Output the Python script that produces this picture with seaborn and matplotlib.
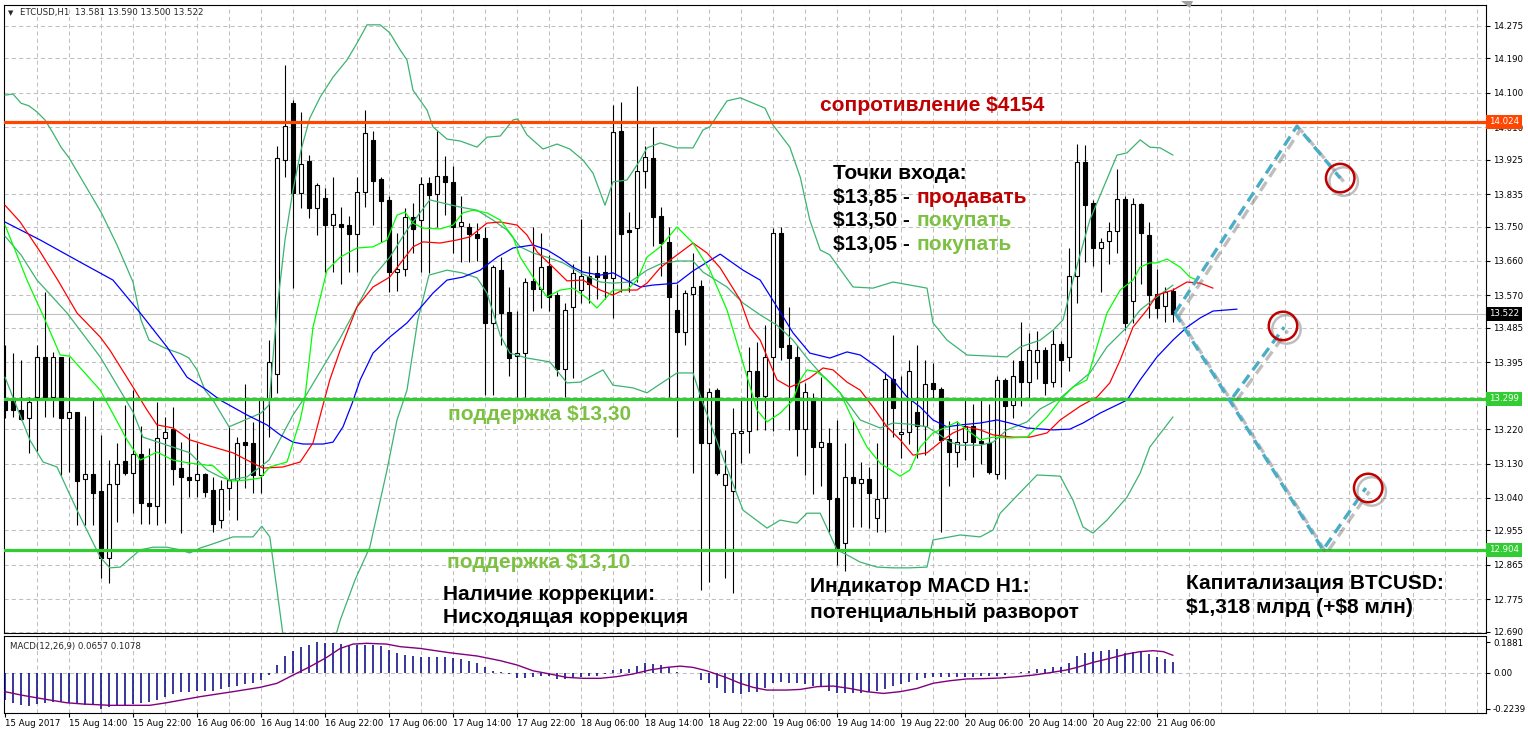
import numpy as np
import matplotlib
matplotlib.use("Agg")
import matplotlib.pyplot as plt
import matplotlib.patheffects as pe
from matplotlib.patches import Polygon
import seaborn as sns

# ---------------- data ----------------
opens = [13.300, 13.298, 13.270, 13.248, 13.305, 13.410, 13.305, 13.410, 13.248, 13.264,
         13.089, 13.103, 13.058, 12.882, 13.076, 13.137, 13.106, 13.155, 13.028, 13.020,
         13.196, 13.220, 13.117, 13.094, 13.087, 13.102, 13.061, 12.982, 13.065, 13.087,
         13.186, 13.183, 13.101, 13.296, 13.363, 13.924, 14.073, 13.839, 13.922, 13.798,
         13.826, 13.753, 13.757, 13.753, 13.730, 13.840, 13.977, 13.875, 13.820, 13.631,
         13.638, 13.774, 13.766, 13.863, 13.835, 13.883, 13.866, 13.752, 13.750, 13.731,
         13.720, 13.499, 13.637, 13.526, 13.412, 13.419, 13.608, 13.586, 13.647, 13.571,
         13.377, 13.539, 13.584, 13.621, 13.628, 13.631, 13.615, 13.999, 13.740, 13.746,
         13.896, 13.930, 13.779, 13.711, 13.532, 13.473, 13.574, 13.595, 13.185, 13.323,
         13.074, 13.059, 13.209, 13.214, 13.372, 13.307, 13.408, 13.734, 13.440, 13.408,
         13.220, 13.298, 13.173, 13.183, 13.039, 12.923, 13.094, 13.080, 13.089, 12.987,
         13.039, 13.350, 13.207, 13.212, 13.265, 13.227, 13.341, 13.325, 13.194, 13.161,
         13.186, 13.227, 13.189, 13.183, 13.103, 13.349, 13.283, 13.399, 13.344, 13.395,
         13.427, 13.343, 13.442, 13.410, 13.621, 13.918, 13.811, 13.695, 13.713, 13.739,
         13.822, 13.554, 13.809, 13.728, 13.574, 13.542, 13.581]
highs = [13.440, 13.418, 13.401, 13.305, 13.440, 13.580, 13.423, 13.410, 13.410, 13.264,
         13.255, 13.296, 13.205, 13.139, 13.183, 13.283, 13.322, 13.228, 13.170, 13.292,
         13.253, 13.279, 13.187, 13.209, 13.183, 13.104, 13.096, 13.087, 13.226, 13.200,
         13.338, 13.239, 13.296, 13.453, 13.960, 14.173, 14.080, 14.051, 13.937, 13.863,
         13.850, 13.881, 13.802, 13.778, 13.881, 14.054, 14.001, 13.880, 13.830, 13.733,
         13.798, 13.811, 13.881, 13.881, 14.001, 13.936, 13.909, 13.830, 13.760, 13.760,
         13.750, 13.650, 13.670, 13.593, 13.530, 13.615, 13.750, 13.734, 13.676, 13.580,
         13.550, 13.652, 13.769, 13.673, 13.676, 13.676, 14.068, 14.077, 13.789, 14.118,
         13.960, 14.011, 13.800, 13.750, 13.600, 13.584, 13.680, 13.610, 13.327, 13.327,
         13.166, 13.275, 13.296, 13.436, 13.449, 13.493, 13.746, 13.748, 13.539, 13.440,
         13.340, 13.314, 13.357, 13.222, 13.244, 13.183, 13.244, 13.135, 13.122, 13.183,
         13.370, 13.467, 13.358, 13.401, 13.440, 13.401, 13.392, 13.330, 13.242, 13.242,
         13.296, 13.286, 13.296, 13.286, 13.360, 13.353, 13.401, 13.501, 13.471, 13.478,
         13.436, 13.480, 13.450, 13.693, 13.966, 13.964, 13.820, 13.719, 13.763, 13.900,
         13.830, 13.824, 13.811, 13.761, 13.639, 13.593, 13.590]
lows = [13.250, 13.253, 13.244, 13.158, 13.164, 13.253, 13.253, 13.100, 13.109, 12.969,
        12.969, 12.969, 12.831, 12.817, 12.978, 13.100, 13.000, 12.971, 12.971, 12.969,
        12.975, 13.074, 12.949, 13.043, 13.043, 13.043, 12.950, 12.960, 13.008, 12.982,
        13.065, 13.052, 13.052, 13.200, 13.314, 13.881, 13.589, 13.798, 13.772, 13.728,
        13.632, 13.632, 13.600, 13.631, 13.631, 13.800, 13.754, 13.710, 13.580, 13.582,
        13.620, 13.680, 13.632, 13.628, 13.750, 13.780, 13.680, 13.658, 13.658, 13.660,
        13.309, 13.309, 13.440, 13.359, 13.305, 13.305, 13.528, 13.536, 13.530, 13.360,
        13.305, 13.353, 13.550, 13.550, 13.560, 13.560, 13.510, 13.580, 13.580, 13.606,
        13.850, 13.700, 13.620, 13.305, 13.200, 13.440, 13.104, 12.800, 12.820, 13.100,
        12.830, 12.790, 13.131, 13.157, 13.218, 13.218, 13.214, 13.400, 13.218, 13.150,
        13.100, 13.050, 13.070, 12.950, 12.865, 12.850, 12.965, 12.965, 12.960, 12.952,
        12.952, 13.200, 13.144, 13.180, 13.144, 13.153, 13.300, 12.952, 13.070, 13.120,
        13.140, 13.096, 13.130, 13.103, 13.090, 13.089, 13.250, 13.280, 13.300, 13.350,
        13.310, 13.331, 13.330, 13.371, 13.549, 13.658, 13.648, 13.580, 13.651, 13.680,
        13.480, 13.499, 13.600, 13.510, 13.510, 13.500, 13.500]
closes = [13.270, 13.270, 13.246, 13.290, 13.410, 13.305, 13.410, 13.248, 13.264, 13.085,
          13.102, 13.054, 12.882, 13.076, 13.130, 13.106, 13.155, 13.026, 13.020, 13.196,
          13.213, 13.116, 13.094, 13.087, 13.102, 13.056, 12.973, 13.064, 13.087, 13.185,
          13.179, 13.101, 13.296, 13.396, 13.930, 14.012, 13.839, 13.914, 13.798, 13.859,
          13.753, 13.783, 13.750, 13.730, 13.840, 13.994, 13.870, 13.818, 13.631, 13.638,
          13.774, 13.743, 13.862, 13.833, 13.883, 13.866, 13.750, 13.761, 13.730, 13.720,
          13.499, 13.644, 13.523, 13.406, 13.419, 13.604, 13.586, 13.644, 13.567, 13.377,
          13.532, 13.628, 13.622, 13.600, 13.619, 13.615, 13.997, 13.730, 13.737, 13.896,
          13.931, 13.776, 13.708, 13.567, 13.473, 13.576, 13.591, 13.185, 13.318, 13.106,
          13.103, 13.209, 13.216, 13.371, 13.307, 13.408, 13.732, 13.436, 13.405, 13.220,
          13.318, 13.173, 13.186, 13.037, 12.908, 13.094, 13.080, 13.089, 13.052, 13.037,
          13.350, 13.275, 13.212, 13.371, 13.229, 13.337, 13.324, 13.192, 13.161, 13.186,
          13.229, 13.187, 13.183, 13.109, 13.349, 13.281, 13.359, 13.344, 13.426, 13.426,
          13.340, 13.442, 13.401, 13.621, 13.918, 13.807, 13.695, 13.711, 13.739, 13.822,
          13.499, 13.808, 13.733, 13.571, 13.538, 13.580, 13.522]

macd_hist = [-0.170, -0.187, -0.201, -0.207, -0.195, -0.191, -0.180, -0.180, -0.191, -0.195,
             -0.201, -0.201, -0.2239, -0.216, -0.201, -0.201, -0.195, -0.187, -0.180, -0.170,
             -0.149, -0.135, -0.122, -0.118, -0.114, -0.114, -0.112, -0.104, -0.091, -0.083,
             -0.071, -0.066, -0.046, -0.017, 0.048, 0.104, 0.137, 0.162, 0.172, 0.1881,
             0.187, 0.187, 0.178, 0.172, 0.170, 0.172, 0.172, 0.166, 0.141, 0.120,
             0.110, 0.104, 0.100, 0.095, 0.095, 0.095, 0.091, 0.083, 0.075, 0.062,
             0.037, 0.010, 0.004, -0.010, -0.035, -0.031, -0.025, -0.019, -0.019, -0.041,
             -0.041, -0.031, -0.025, -0.021, -0.021, -0.010, 0.017, 0.023, 0.023, 0.041,
             0.058, 0.054, 0.048, 0.033, 0.002, 0.001, 0.001, -0.046, -0.062, -0.098,
             -0.124, -0.129, -0.135, -0.118, -0.118, -0.098, -0.062, -0.056, -0.062, -0.066,
             -0.071, -0.081, -0.091, -0.112, -0.124, -0.129, -0.129, -0.124, -0.118, -0.114,
             -0.102, -0.081, -0.071, -0.056, -0.046, -0.035, -0.025, -0.025, -0.025, -0.025,
             -0.025, -0.025, -0.021, -0.021, -0.021, -0.012, -0.004, 0.006, 0.012, 0.023,
             0.023, 0.037, 0.033, 0.062, 0.104, 0.124, 0.131, 0.137, 0.141, 0.147,
             0.124, 0.131, 0.131, 0.116, 0.100, 0.083, 0.0657]
signal_x = [0, 2, 4.4, 7.7, 9.8, 13.1, 18.1, 20.2, 24.4, 28.5, 31.9, 34, 36, 38.1, 40.2, 41.9,
            43.5, 45.2, 47.7, 49.4, 51.9, 55.6, 59, 61.9, 64, 66, 68.1, 70.2, 72.3, 74.4, 76.4,
            78.5, 80.6, 82.7, 84.4, 86, 87.7, 90.2, 91.9, 93.5, 95.2, 97.7, 99.4, 101.5, 103.5,
            105.6, 107.7, 109.8, 111.9, 114, 116, 118.1, 120.2, 122.3, 124.4, 126.5, 128.5,
            130.6, 132.7, 134, 136, 138.1, 140.2, 141.9, 143.5, 144.8, 146]
signal_y = [-0.118, -0.139, -0.160, -0.187, -0.195, -0.203, -0.203, -0.187, -0.149, -0.118,
            -0.091, -0.066, -0.015, 0.037, 0.095, 0.151, 0.178, 0.183, 0.178, 0.162, 0.151,
            0.124, 0.104, 0.075, 0.048, 0.012, -0.008, -0.029, -0.035, -0.035, -0.025, -0.008,
            0.017, 0.033, 0.041, 0.033, 0.012, -0.031, -0.066, -0.091, -0.108, -0.108, -0.104,
            -0.087, -0.083, -0.098, -0.118, -0.129, -0.118, -0.098, -0.066, -0.050, -0.039,
            -0.037, -0.033, -0.025, -0.015, 0.0, 0.017, 0.033, 0.064, 0.089, 0.116, 0.131,
            0.137, 0.131, 0.108]

bb_upper_x = [0, 1, 2, 3, 4, 5, 6, 7, 8, 10, 12, 14, 16, 17, 18, 20, 22, 23, 24, 25, 26, 28, 30,
              32, 33, 34, 35, 36, 37, 38.1, 39.4, 41, 42.75, 44, 45.25, 46.9, 48.1, 49.4, 50.25,
              51, 52.75, 53.5, 55.25, 56.9, 59, 60.25, 61.9, 63.5, 64.1, 65.25, 67.25, 69, 70.6,
              72.25, 73.5, 75, 76, 77.75, 79.4, 80.25, 81.9, 84, 86, 87.25, 88.1, 90.25, 91.9,
              93.5, 95, 96, 98.1, 99.4, 100.6, 101.9, 103.1, 106, 108.5, 111, 115.25, 116,
              117.75, 120.25, 125.25, 126.9, 129.4, 131, 132.25, 133.5, 135.6, 139, 140.25,
              141.9, 143.1, 144.4, 146]
bb_upper_y = [14.094, 14.097, 14.073, 14.066, 14.050, 14.029, 13.995, 13.958, 13.930, 13.859,
              13.788, 13.702, 13.605, 13.506, 13.453, 13.432, 13.417, 13.406, 13.375, 13.322,
              13.296, 13.226, 13.244, 13.262, 13.283, 13.532, 13.715, 13.846, 13.950, 14.034,
              14.089, 14.141, 14.186, 14.230, 14.278, 14.278, 14.257, 14.212, 14.186, 14.107,
              14.055, 14.011, 13.979, 13.974, 13.958, 13.984, 13.987, 14.029, 14.032, 13.990,
              13.953, 13.966, 13.953, 13.924, 13.890, 13.806, 13.867, 13.872, 13.924, 13.956,
              13.969, 13.956, 13.956, 14.003, 14.011, 14.079, 14.087, 14.073, 14.060, 14.016,
              13.958, 13.880, 13.767, 13.689, 13.676, 13.592, 13.589, 13.605, 13.589, 13.498,
              13.453, 13.414, 13.409, 13.435, 13.453, 13.479, 13.506, 13.610, 13.767, 13.937,
              13.943, 13.977, 13.958, 13.956, 13.937]
bb_mid_x = [0, 2, 4, 7.75, 11.9, 16, 17.25, 20.25, 23.1, 25.25, 26.9, 28.1, 30.25, 31.9, 33, 34,
            35, 36, 37.5, 39.75, 41.9, 44, 46, 48.1, 50.25, 53.1, 55.25, 56.9, 59, 61, 62.75,
            64.4, 66, 67.75, 69.75, 71.9, 74.4, 76, 78.1, 80.25, 81.9, 84, 86, 87.25, 90.25,
            92.25, 94.4, 96.5, 98.5, 100.25, 101.9, 104.4, 106.9, 109.4, 111, 113.1, 115.25,
            116.5, 118.1, 119.4, 121.9, 123.5, 125.25, 127.75, 129.4, 131.9, 133.5, 135.6,
            137.75, 140.25, 141.9, 144, 146]
bb_mid_y = [13.725, 13.676, 13.610, 13.524, 13.409, 13.265, 13.199, 13.178, 13.158, 13.113,
            13.095, 13.087, 13.095, 13.121, 13.139, 13.178, 13.218, 13.257, 13.304, 13.383,
            13.458, 13.540, 13.618, 13.670, 13.741, 13.820, 13.809, 13.801, 13.793, 13.767,
            13.741, 13.697, 13.681, 13.670, 13.655, 13.629, 13.605, 13.602, 13.605, 13.636,
            13.652, 13.660, 13.660, 13.631, 13.592, 13.550, 13.519, 13.492, 13.453, 13.406,
            13.367, 13.315, 13.244, 13.223, 13.236, 13.233, 13.226, 13.210, 13.186, 13.178,
            13.178, 13.186, 13.218, 13.239, 13.273, 13.301, 13.330, 13.367, 13.435, 13.487,
            13.532, 13.566, 13.597]
bb_low_x = [0, 3.1, 4.75, 6.5, 9, 11.9, 13.1, 14.4, 16.9, 18.5, 20.25, 21.9, 23.1, 24.4, 25.6,
            28.5, 31, 32.1, 33.1, 34, 35, 36.9, 39.4, 41.9, 43.75, 45.6, 47.75, 49, 50.25, 51.6,
            53, 55.25, 57.1, 59, 60.25, 61.9, 63.1, 65.25, 68.1, 70.25, 71.9, 74.75, 76, 78.5,
            80.25, 82.25, 84, 86, 87.1, 89.4, 92.25, 95.25, 96.9, 99, 100.25, 101.9, 104,
            105.25, 106.9, 109, 111, 113.1, 115.25, 116, 119.4, 121.9, 123.5, 124.4, 129,
            131.9, 133.5, 134.75, 136, 137.75, 140.25, 141.9, 143.1, 144.75, 146]
bb_low_y = [13.356, 13.192, 13.134, 13.121, 13.008, 12.885, 12.857, 12.859, 12.904, 12.911,
            12.911, 12.904, 12.896, 12.909, 12.917, 12.938, 12.938, 12.966, 12.938, 12.799,
            12.642, 12.537, 12.537, 12.720, 12.825, 12.911, 13.113, 13.244, 13.322, 13.506,
            13.623, 13.636, 13.629, 13.616, 13.576, 13.466, 13.419, 13.406, 13.396, 13.341,
            13.343, 13.375, 13.335, 13.328, 13.315, 13.343, 13.367, 13.367, 13.296, 13.165,
            13.008, 12.961, 12.982, 12.974, 13.000, 13.000, 12.904, 12.891, 12.872, 12.859,
            12.857, 12.857, 12.859, 12.930, 12.943, 12.938, 12.956, 13.000, 13.100, 13.097,
            13.034, 12.964, 12.948, 12.982, 13.042, 13.105, 13.173, 13.218, 13.252]

lips_x = [0, 1.25, 2.75, 5, 6.9, 8.1, 11.9, 15.25, 16.9, 19, 21, 23.1, 26, 28.1, 30.25, 31.9,
          33.1, 35.25, 36.9, 37.5, 38.5, 40.25, 41.9, 44, 46, 47.75, 49, 50, 51, 52.25, 54.4,
          56, 57.25, 58.5, 60.25, 61.9, 63.5, 64.4, 66, 67.75, 69.4, 71, 72.75, 74, 76, 77.75,
          79, 80.25, 81.9, 84, 86, 88.1, 90.25, 92.25, 94, 95.25, 96.9, 98.5, 99.4, 100.25,
          101.5, 102.75, 104.4, 106, 107.75, 109.4, 111.9, 113.1, 114.4, 116, 117.75, 119,
          120.25, 121.9, 123.5, 125.6, 127.75, 130.25, 131.9, 133.5, 135.25, 136, 137.75,
          139.4, 141, 141.9, 143.1, 144, 145.25, 146.9, 148.1, 149]
lips_y = [13.754, 13.689, 13.610, 13.506, 13.414, 13.411, 13.322, 13.192, 13.139, 13.160,
          13.139, 13.131, 13.124, 13.084, 13.087, 13.092, 13.121, 13.134, 13.244, 13.304,
          13.487, 13.636, 13.670, 13.694, 13.697, 13.715, 13.780, 13.788, 13.759, 13.746,
          13.744, 13.754, 13.786, 13.793, 13.786, 13.767, 13.723, 13.670, 13.618, 13.566,
          13.584, 13.589, 13.563, 13.537, 13.584, 13.584, 13.610, 13.670, 13.697, 13.749,
          13.707, 13.636, 13.532, 13.393, 13.270, 13.239, 13.262, 13.296, 13.349, 13.375,
          13.370, 13.349, 13.315, 13.244, 13.173, 13.131, 13.097, 13.113, 13.173, 13.210,
          13.226, 13.239, 13.218, 13.192, 13.199, 13.197, 13.199, 13.252, 13.296, 13.330,
          13.349, 13.401, 13.524, 13.584, 13.610, 13.644, 13.655, 13.655, 13.665, 13.644,
          13.618, 13.610]
teeth_x = [0, 1.9, 4.4, 6.6, 9, 11.9, 13.1, 16, 17.75, 19, 21, 23.1, 25.25, 28.5, 31, 32.25,
           34.75, 36.9, 38.5, 39.75, 40.6, 41.9, 44, 46, 48.1, 49.75, 51, 52.25, 54.4, 56.5,
           58.1, 60.25, 61.9, 64, 65.25, 66.5, 68.5, 70.25, 72.25, 74.4, 76, 77.25, 79, 80.25,
           81.9, 83.5, 86, 87.75, 89.4, 91.9, 93.1, 94.4, 95.6, 96.5, 98.1, 99.4, 100.6,
           102.25, 103.5, 105.25, 106.9, 108.5, 110.25, 111.9, 113.5, 115.25, 116.9, 118.5,
           120.25, 121.9, 123.5, 126, 128.1, 130.25, 131.9, 134.4, 136.5, 138.1, 139.4, 141,
           142.75, 144, 146, 147.75, 149.4, 151]
teeth_y = [13.806, 13.762, 13.684, 13.610, 13.524, 13.461, 13.427, 13.330, 13.270, 13.231,
           13.223, 13.192, 13.178, 13.158, 13.131, 13.118, 13.121, 13.134, 13.184, 13.283,
           13.349, 13.427, 13.540, 13.592, 13.618, 13.663, 13.697, 13.710, 13.707, 13.715,
           13.723, 13.759, 13.762, 13.754, 13.728, 13.684, 13.644, 13.608, 13.610, 13.584,
           13.571, 13.584, 13.584, 13.602, 13.642, 13.668, 13.707, 13.681, 13.642, 13.558,
           13.487, 13.453, 13.393, 13.349, 13.330, 13.341, 13.354, 13.380, 13.375, 13.343,
           13.322, 13.278, 13.226, 13.192, 13.152, 13.158, 13.186, 13.210, 13.226, 13.218,
           13.205, 13.199, 13.199, 13.210, 13.244, 13.280, 13.304, 13.341, 13.401, 13.487,
           13.532, 13.571, 13.584, 13.605, 13.602, 13.589]
jaw_x = [0, 4.4, 9.4, 13.5, 16.9, 20.25, 22.75, 25.25, 26.9, 30.25, 32.75, 34.4, 36, 37.25,
         39.75, 41, 42.25, 43.4, 44.4, 46, 48.1, 50.25, 51.9, 53.5, 55.25, 57.25, 59.4, 61.5,
         63.5, 66, 67.75, 69.4, 71, 72.25, 74.4, 76, 78.1, 79.4, 81, 84, 86, 89.4, 92.25, 94.4,
         96.5, 98.5, 100.6, 103.1, 105.25, 106.9, 109, 111, 112.75, 114.4, 116, 117.75, 119.4,
         121.9, 124, 125.6, 127.75, 131, 133.1, 134.75, 136.9, 140.25, 141.9, 144, 146,
         147.75, 149.4, 151, 154]
jaw_y = [13.762, 13.715, 13.657, 13.610, 13.524, 13.435, 13.356, 13.322, 13.296, 13.257,
         13.231, 13.205, 13.186, 13.181, 13.181, 13.186, 13.226, 13.288, 13.349, 13.419,
         13.461, 13.498, 13.537, 13.576, 13.610, 13.618, 13.636, 13.670, 13.694, 13.702,
         13.689, 13.668, 13.644, 13.631, 13.623, 13.629, 13.605, 13.592, 13.597, 13.602,
         13.634, 13.678, 13.636, 13.610, 13.540, 13.472, 13.419, 13.406, 13.422, 13.414,
         13.383, 13.349, 13.304, 13.278, 13.244, 13.226, 13.231, 13.236, 13.244, 13.236,
         13.223, 13.218, 13.220, 13.236, 13.262, 13.296, 13.349, 13.409, 13.453, 13.487,
         13.511, 13.529, 13.534]

price_ticks = [14.275, 14.190, 14.100, 14.010, 13.925, 13.835, 13.750, 13.660, 13.570, 13.485,
               13.395, 13.305, 13.220, 13.130, 13.040, 12.955, 12.865, 12.775, 12.690]
hidden_price_ticks = [13.305]
macd_ticks = [-0.2239, 0.0, 0.1881]
macd_tick_labels = ["-0.2239", "0.00", "0.1881"]
time_labels = ["15 Aug 2017", "15 Aug 14:00", "15 Aug 22:00", "16 Aug 06:00", "16 Aug 14:00",
               "16 Aug 22:00", "17 Aug 06:00", "17 Aug 14:00", "17 Aug 22:00", "18 Aug 06:00",
               "18 Aug 14:00", "18 Aug 22:00", "19 Aug 06:00", "19 Aug 14:00", "19 Aug 22:00",
               "20 Aug 06:00", "20 Aug 14:00", "20 Aug 22:00", "21 Aug 06:00"]
resistance_level = 14.024
support_level_1 = 13.299
support_level_2 = 12.904
last_price = 13.522

path_a_x = [146.25, 161.5, 166.9]
path_a_y = [13.524, 14.013, 13.877]
path_b_x = [146.25, 164.75, 170.1]
path_b_y = [13.524, 12.904, 13.066]
path_c_x = [153.5, 159.9]
path_c_y = [13.304, 13.487]
target_x = [166.9, 159.75, 170.4]
target_y = [13.877, 13.490, 13.066]

# ---------------- style ----------------
sns.set_theme(style="white")
plt.rcParams.update({
    "font.family": ["DejaVu Sans"],
    "axes.edgecolor": "black",
    "axes.linewidth": 0.8,
    "xtick.color": "black",
    "ytick.color": "black",
    "xtick.labelsize": 6.2,
    "ytick.labelsize": 6.2,
})

W, H = 1528, 736
fig = plt.figure(figsize=(W / 100, H / 100), dpi=100)
fig.patch.set_facecolor("white")
LPX, RPX = 4, 1486
ax = fig.add_axes([LPX / W, 1 - 633 / H, (RPX - LPX) / W, (633 - 5) / H])
axm = fig.add_axes([LPX / W, 1 - 713 / H, (RPX - LPX) / W, (713 - 636) / H])
for a in (ax, axm):
    a.set_xlim(-0.125, 185.125)
    a.set_facecolor("white")
    for s in a.spines.values():
        s.set_color("black")
        s.set_linewidth(0.8)
ax.set_ylim(12.6865, 14.3299)
axm.set_ylim(-0.2508, 0.2284)

grid_kw = dict(color="#C0C0C0", lw=0.75, linestyle=(0, (4, 3)), zorder=0)
for b in range(4, 186, 4):
    ax.axvline(b, **grid_kw)
    axm.axvline(b, **grid_kw)
for t in price_ticks:
    ax.axhline(t, **grid_kw)
axm.axhline(0, **grid_kw)

# ticks
ax.set_xticks([])
ax.yaxis.tick_right()
ax.set_yticks(price_ticks)
ax.set_yticklabels(["" if t in hidden_price_ticks else f"{t:.3f}" for t in price_ticks])
ax.tick_params(axis="y", right=True, length=3, width=0.8, pad=2, direction="out")
axm.yaxis.tick_right()
axm.set_yticks(macd_ticks)
axm.set_yticklabels(macd_tick_labels)
axm.tick_params(axis="y", right=True, length=3, width=0.8, pad=2, direction="out")
label_bars = list(range(0, 8 * len(time_labels), 8))
axm.set_xticks(label_bars)
axm.set_xticklabels(time_labels, ha="left")
axm.tick_params(axis="x", bottom=True, length=3, width=0.8, pad=1.5, direction="out")

# candles
idx = np.arange(len(opens))
o, h, l, c = (np.array(v) for v in (opens, highs, lows, closes))
ax.vlines(idx, l, h, colors="black", lw=0.8, zorder=3)
bull = c >= o
body_lo = np.minimum(o, c)
body_h = np.maximum(np.abs(c - o), 0.0012)
ax.bar(idx, body_h, bottom=body_lo, width=0.62,
       color=np.where(bull, "white", "black"), edgecolor="black", linewidth=0.8, zorder=4)

# indicators
for xs, ys, col in [(bb_upper_x, bb_upper_y, "#3CB371"), (bb_mid_x, bb_mid_y, "#3CB371"),
                    (bb_low_x, bb_low_y, "#3CB371"), (jaw_x, jaw_y, "#0000FF"),
                    (teeth_x, teeth_y, "#FF0000"), (lips_x, lips_y, "#00FF00")]:
    sns.lineplot(x=xs, y=ys, ax=ax, color=col, lw=0.9, estimator=None, sort=False,
                 legend=False, zorder=5)

# levels
ax.axhline(last_price, color="#C0C0C0", lw=0.8, zorder=1)
ax.axhline(resistance_level, color="#FF4500", lw=2.3, zorder=6)
ax.axhline(support_level_1, color="#32CD32", lw=2.3, zorder=6)
ax.axhline(support_level_2, color="#32CD32", lw=2.3, zorder=6)
ytr = ax.get_yaxis_transform()
for val, col in [(resistance_level, "#FF4500"), (support_level_1, "#32CD32"),
                 (support_level_2, "#32CD32"), (last_price, "black")]:
    ax.annotate(f"{val:.3f}", xy=(1, val), xycoords=ytr, xytext=(2.2, 0),
                textcoords="offset points", ha="left", va="center", fontsize=6.2,
                color="white", bbox=dict(boxstyle="square,pad=0.3", fc=col, ec="none"),
                annotation_clip=False, zorder=20)

# forecast paths
shadow = [pe.SimpleLineShadow(offset=(2.5, -2.5), shadow_color="#707070", alpha=0.45), pe.Normal()]
for xs, ys in [(path_a_x, path_a_y), (path_b_x, path_b_y), (path_c_x, path_c_y)]:
    ax.plot(xs, ys, color="#4BACC6", lw=2.4, linestyle=(0, (3.2, 1.8)),
            dash_capstyle="butt", zorder=9, path_effects=shadow)
ax.scatter(target_x, target_y, s=420, facecolors="none", edgecolors="#C00000",
           linewidths=1.8, zorder=10, path_effects=shadow)

# texts
tkw = dict(fontsize=15, fontweight="bold", family="Liberation Sans", va="center", ha="left", zorder=12)
red = "#C00000"
grn = "#7CC142"
ax.text(101.9, 14.068, r"сопротивление \$4154", color=red, **tkw)
ax.text(103.5, 13.890, "Точки входа:", color="black", **tkw)
for yv, a_txt, b_txt, col in [(13.827, r"\$13,85 -", "продавать", red),
                              (13.765, r"\$13,50 -", "покупать", grn),
                              (13.702, r"\$13,05 -", "покупать", grn)]:
    t = ax.text(103.5, yv, a_txt, color="black", **tkw)
    ax.annotate(b_txt, xy=(1, 0), xycoords=t, xytext=(4.5, 0), textcoords="offset points",
                va="bottom", ha="left", color=col, fontsize=15, fontweight="bold",
                family="Liberation Sans", zorder=12)
ax.text(55.4, 13.257, r"поддержка \$13,30", color=grn, **tkw)
ax.text(55.25, 12.872, r"поддержка \$13,10", color=grn, **tkw)
ax.text(54.75, 12.788, "Наличие коррекции:", color="black", **tkw)
ax.text(54.75, 12.726, "Нисходящая коррекция", color="black", **tkw)
ax.text(100.6, 12.807, "Индикатор MACD H1:", color="black", **tkw)
ax.text(100.6, 12.741, "потенциальный разворот", color="black", **tkw)
ax.text(147.6, 12.817, "Капитализация BTCUSD:", color="black", **tkw)
ax.text(147.6, 12.754, r"\$1,318 млрд (+\$8 млн)", color="black", **tkw)

# MACD panel
axm.vlines(idx, 0, macd_hist, colors="#000080", lw=1.1, zorder=3)
sns.lineplot(x=signal_x, y=signal_y, ax=axm, color="#800080", lw=1.0, estimator=None,
             sort=False, legend=False, zorder=4)
for a in (ax, axm):
    a.set_xlabel("")
    a.set_ylabel("")

# headers
fig.text(8 / W, 1 - 13 / H, "▼", fontsize=5, va="center", ha="left")
fig.text(20 / W, 1 - 13 / H, "ETCUSD,H1  13.581 13.590 13.500 13.522", fontsize=6.2,
         va="center", ha="left")
fig.text(10 / W, 1 - 646 / H, "MACD(12,26,9) 0.0657 0.1078", fontsize=6.2, va="center", ha="left")
# chart-shift marker at the top edge
fig.add_artist(Polygon([(1181 / W, 1 - 1 / H), (1193 / W, 1 - 1 / H), (1190 / W, 1 - 8 / H)],
                       closed=True, transform=fig.transFigure, fc="#A0A0A0", ec="none", zorder=30))

fig.savefig("out.png", dpi=100, facecolor="white")
